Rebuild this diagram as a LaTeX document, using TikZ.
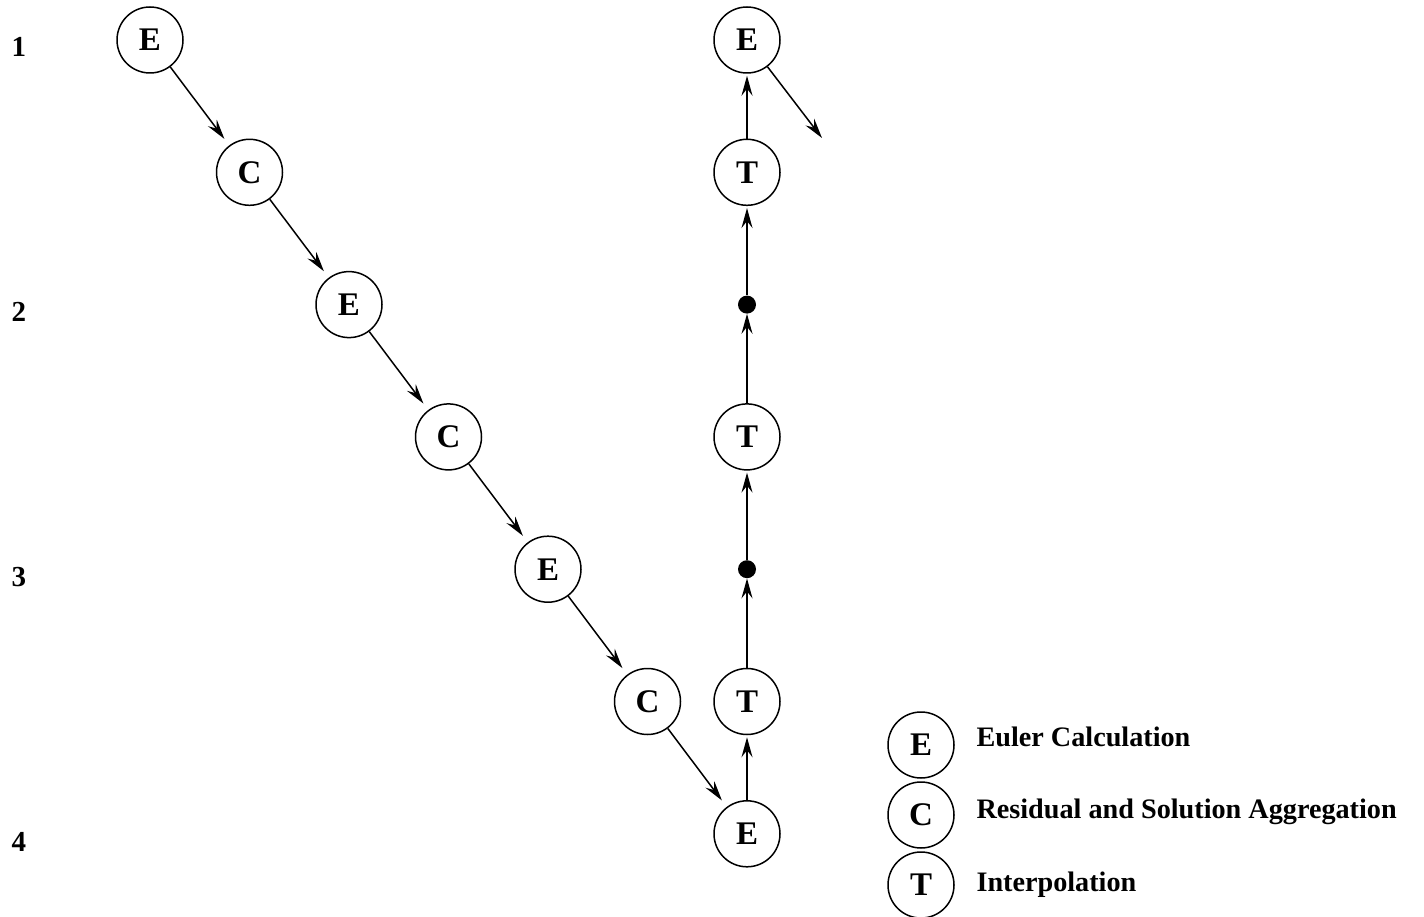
\documentclass[tikz,border=0pt]{standalone}
\usepackage{fontspec}
\setmainfont{Liberation Serif}
\usepackage{tikz}
\usetikzlibrary{positioning,arrows.meta}

\begin{document}
\begin{tikzpicture}[
    x=1pt,y=-1pt,
    proc/.style={draw,circle,line width=1.5pt,minimum size=66pt,inner sep=0pt,
                 font=\bfseries\fontsize{33}{38}\selectfont},
    junc/.style={fill,circle,minimum size=18pt,inner sep=0pt},
    txt/.style={anchor=base west,font=\bfseries\fontsize{28.2}{34}\selectfont},
    rowlbl/.style={anchor=base,font=\bfseries\fontsize{29}{34}\selectfont},
    arr/.style={-{Stealth[length=20pt,width=11pt,inset=7pt]},line width=1.5pt},
    on grid,
    node distance=132.3pt and 99.5pt,
  ]
    \useasboundingbox (0,0) rectangle (1424,917);
    % row numbers
    \foreach \r in {1,...,4}
      \node[rowlbl] (row\r) at (19,{57+264.8*(\r-1)}) {\r};
    % left branch
    \node[proc] (E1) at (150,40) {E};
    \node[proc,below right=of E1] (C1) {C};
    \node[proc,below right=of C1] (E2) {E};
    \node[proc,below right=of E2] (C2) {C};
    \node[proc,below right=of C2] (E3) {E};
    \node[proc,below right=of E3] (C3) {C};
    \node[proc,below right=of C3] (E4) {E};
    % right branch
    \node[proc,above=of E4] (T3) {T};
    \node[junc,above=of T3] (D2) {};
    \node[proc,above=of D2] (T2) {T};
    \node[junc,above=of T2] (D1) {};
    \node[proc,above=of D1] (T1) {T};
    \node[proc,above=of T1] (ET) {E};
    \coordinate (out) at (822,138);
    \draw[arr,shorten >=8pt] (E1) -- (C1);
    \draw[arr,shorten >=8pt] (C1) -- (E2);
    \draw[arr,shorten >=8pt] (E2) -- (C2);
    \draw[arr,shorten >=8pt] (C2) -- (E3);
    \draw[arr,shorten >=8pt] (E3) -- (C3);
    \draw[arr,shorten >=8pt] (C3) -- (E4);
    \draw[arr,shorten >=2pt] (E4) -- (T3);
    \draw[arr] (T3) -- (D2);
    \draw[arr,shorten >=2pt] (D2) -- (T2);
    \draw[arr] (T2) -- (D1);
    \draw[arr,shorten >=2pt] (D1) -- (T1);
    \draw[arr,shorten >=2pt] (T1) -- (ET);
    \draw[arr] (ET) -- (out);
    % legend
    \node[proc] (legE) at (921,745) {E};
    \node[proc] (legC) at (921,815) {C};
    \node[proc] (legT) at (921,885) {T};
    \node[txt] (txtE) at (973,746) {Euler Calculation};
    \node[txt] (txtC) at (973,818) {Residual and Solution Aggregation};
    \node[txt] (txtT) at (973,891) {Interpolation};
  \end{tikzpicture}
\end{document}
